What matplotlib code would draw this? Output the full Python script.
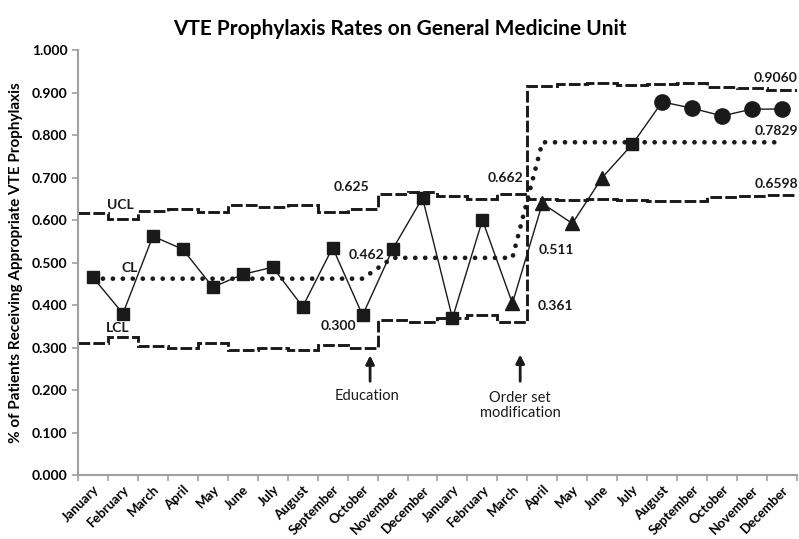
import numpy as np
import matplotlib.pyplot as plt

plt.rcParams['font.family'] = ['Lato', 'DejaVu Sans']

months = ["January", "February", "March", "April", "May", "June", "July",
          "August", "September", "October", "November", "December"] * 2

rate = [0.465, 0.380, 0.562, 0.531, 0.442, 0.472, 0.489, 0.396, 0.535, 0.376,
        0.531, 0.652, 0.369, 0.600, 0.404, 0.639, 0.592, 0.700, 0.778, 0.878,
        0.863, 0.845, 0.861, 0.861]
marker_kind = ["s"] * 14 + ["^"] * 4 + ["s"] + ["o"] * 5

ucl = [0.616, 0.602, 0.622, 0.626, 0.618, 0.635, 0.630, 0.635, 0.618, 0.625,
       0.661, 0.667, 0.657, 0.649, 0.662, 0.916, 0.920, 0.923, 0.918, 0.920,
       0.922, 0.914, 0.911, 0.906]
lcl = [0.311, 0.324, 0.304, 0.300, 0.310, 0.294, 0.298, 0.294, 0.307, 0.300,
       0.365, 0.359, 0.369, 0.376, 0.361, 0.649, 0.647, 0.649, 0.647, 0.645,
       0.645, 0.653, 0.656, 0.6598]
cl = [0.462] * 10 + [0.511] * 5 + [0.7829] * 9

x = np.arange(len(months))
edges = np.arange(len(months) + 1) - 0.5
ink = "#1a1a1a"

fig = plt.figure(figsize=(7.99, 5.39), dpi=100)
ax = fig.add_axes([0.0976, 0.1187, 0.8999, 0.7885])

# control limits
ax.stairs(ucl, edges, baseline=None, color=ink, lw=2.1, linestyle=(0, (4, 1.1)))
ax.stairs(lcl, edges, baseline=None, color=ink, lw=2.1, linestyle=(0, (4, 1.1)))
ax.plot(x, cl, color=ink, lw=3.4, linestyle=(0, (0.01, 2.1)), dash_capstyle="round")

# data
ax.plot(x, rate, color=ink, lw=1, zorder=3)
sizes = {"s": 9, "^": 10.5, "o": 11}
for xi, yi, m in zip(x, rate, marker_kind):
    ax.plot(xi, yi, marker=m, ms=sizes[m], color=ink, zorder=4, linestyle="none")

# labels on the chart
lab = dict(fontsize=10, fontweight="bold", color=ink, ha="center", va="center")
ax.text(0.9, 0.635, "UCL", **lab)
ax.text(1.23, 0.486, "CL", **lab)
ax.text(0.81, 0.347, "LCL", **lab)
ax.text(8.62, 0.678, "0.625", **lab)
ax.text(9.12, 0.517, "0.462", **lab)
ax.text(8.2, 0.351, "0.300", **lab)
ax.text(13.77, 0.698, "0.662", **lab)
ax.text(15.46, 0.529, "0.511", **lab)
ax.text(15.42, 0.398, "0.361", **lab)
ax.text(22.8, 0.933, "0.9060", **lab)
ax.text(22.8, 0.810, "0.7829", **lab)
ax.text(22.8, 0.685, "0.6598", **lab)

arrow = dict(arrowstyle="-|>,head_width=0.25,head_length=0.5", color=ink, lw=2)
ax.annotate("", xy=(9.25, 0.288), xytext=(9.25, 0.214), arrowprops=arrow)
ax.annotate("", xy=(14.26, 0.290), xytext=(14.26, 0.214), arrowprops=arrow)
ax.text(9.15, 0.187, "Education", fontsize=10.5, color=ink, ha="center", va="center")
ax.text(14.26, 0.163, "Order set\nmodification", fontsize=10.5, color=ink,
        ha="center", va="center", linespacing=1.1)

# axes styling
ax.set_xlim(-0.5, 23.5)
ax.set_ylim(0, 1.0)
ax.set_yticks(np.arange(0, 1.01, 0.1))
ax.set_yticklabels([f"{v:.3f}" for v in np.arange(0, 1.01, 0.1)],
                   fontsize=10, fontweight="bold")
ax.set_xticks(x)
ax.set_xticklabels(months, rotation=45, ha="right", rotation_mode="anchor",
                   fontsize=9.5, fontweight="bold")
ax.set_xticks(edges, minor=True)
ax.tick_params(axis="x", which="major", length=0, pad=6)
ax.tick_params(axis="x", which="minor", length=4, color="#a0a0a0", width=1.2)
ax.tick_params(axis="y", length=4, color="#a0a0a0", width=1.2)
for side in ["top", "right"]:
    ax.spines[side].set_visible(False)
for side in ["left", "bottom"]:
    ax.spines[side].set_color("#a0a0a0")
    ax.spines[side].set_linewidth(1.5)

ax.set_ylabel("% of Patients Receiving Appropriate VTE Prophylaxis",
              fontsize=11, fontweight="bold", labelpad=6)
fig.suptitle("VTE Prophylaxis Rates on General Medicine Unit", fontsize=15,
             fontweight="bold", x=0.5, y=0.965)

fig.savefig("out.png", dpi=100)
